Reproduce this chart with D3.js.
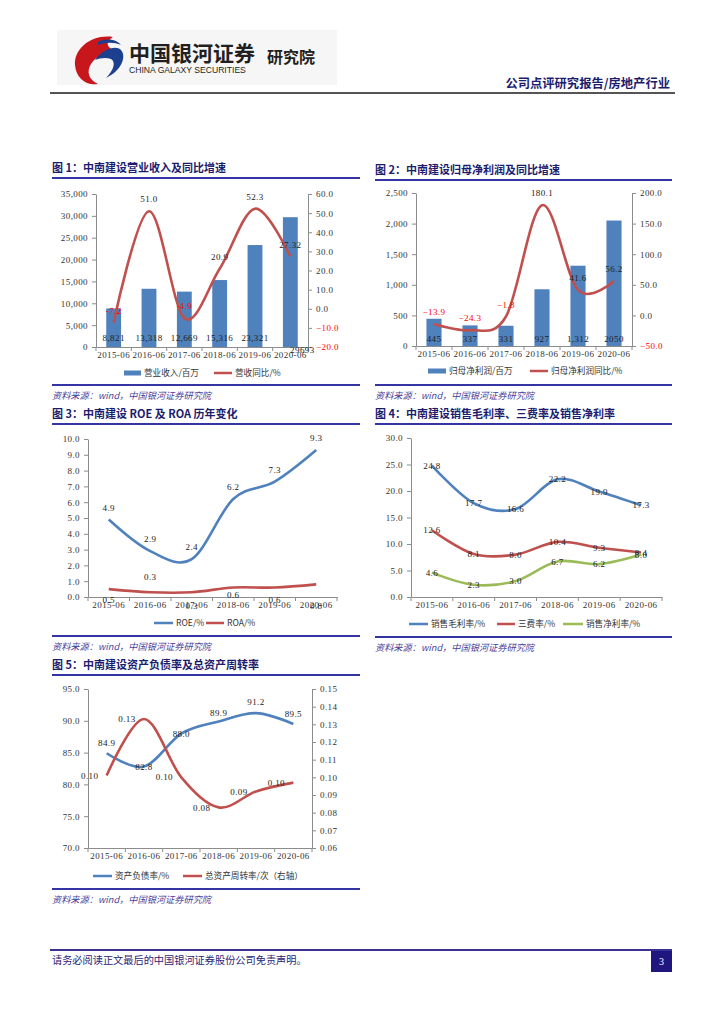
<!DOCTYPE html>
<html lang="zh">
<head>
<meta charset="UTF-8">
<title>中南建设 点评</title>
<script src="https://cdn.jsdelivr.net/npm/d3@7"></script>
<style>
    body{margin:0;background:#fff;}
    svg{display:block;}
</style>
</head>
<body>
<svg width="724" height="1024"></svg>
<script>
var years = ["2015-06","2016-06","2017-06","2018-06","2019-06","2020-06"];

// 图1
var revenue = [8821,13318,12669,15316,23321,29693];
var revenueLabels = ["8,821","13,318","12,669","15,316","23,321","29693"];
var revenueYoy = [-7.2,51.0,-4.9,20.9,52.3,27.32];
var revenueYoyLabels = ["-7.2","51.0","-4.9","20.9","52.3","27.32"];
// 图2
var profit = [445,337,331,927,1312,2050];
var profitLabels = ["445","337","331","927","1,312","2050"];
var profitYoy = [-13.9,-24.3,-1.8,180.1,41.6,56.2];
// 图3
var roe = [4.9,2.9,2.4,6.2,7.3,9.3];
var roa = [0.5,0.3,0.3,0.6,0.6,0.8];
// 图4
var grossMargin = [24.8,17.7,16.6,22.2,19.9,17.3];
var expenseRate = [12.6,8.1,8.0,10.4,9.3,8.4];
var netMargin = [4.6,2.3,3.0,6.7,6.2,8.0];
// 图5
var debtRatio = [84.9,82.8,88.0,89.9,91.2,89.5];
var turnover = [0.101,0.133,0.100,0.083,0.092,0.097];

var BLUE = "#4f81bd", RED = "#c0504d", GREEN = "#9bbb59";
var NAVY = "#1c1c6e", RULE = "#3434a4", SRC = "#4b3f99";
var CN = "'Noto Sans CJK SC', sans-serif", NUM = "'Liberation Serif', serif";

var svg = d3.select("svg");

// ---------- 页眉 ----------
svg.append("rect").attr("x",57).attr("y",30).attr("width",280).attr("height",55).attr("fill","#f6f6f6");
var logo = svg.append("g");
logo.append("path")
    .attr("d","M113,37 C92,34 74,48 75,65 C76,78 86,86 98,84 C89,80 86,72 91,64 C96,56 105,52 114,51 C108,47 104,43 113,37 Z")
    .attr("fill","#c8161d");
logo.append("path")
    .attr("d","M95,60 C103,49 116,45 121,50 C127,57 121,71 106,78 C114,70 116,62 111,59 C106,57 100,58 95,60 Z")
    .attr("fill","#1d3f8f");
logo.append("path")
    .attr("d","M98,42 C106,38 116,39 121,45 C114,42 106,42 98,45 Z")
    .attr("fill","#1d3f8f");
svg.append("text").attr("x",129).attr("y",61).text("中国银河证券")
    .attr("font-family",CN).attr("font-weight",700).attr("font-size",21).attr("fill","#231f20");
svg.append("text").attr("x",129).attr("y",73).text("CHINA GALAXY SECURITIES")
    .attr("font-family","'Liberation Sans', sans-serif").attr("font-size",8.6).attr("fill","#231f20");
svg.append("text").attr("x",267).attr("y",63).text("研究院")
    .attr("font-family",CN).attr("font-weight",700).attr("font-size",16).attr("fill","#231f20");
svg.append("text").attr("x",670).attr("y",88).attr("text-anchor","end").text("公司点评研究报告/房地产行业")
    .attr("font-family",CN).attr("font-weight",700).attr("font-size",12.3).attr("fill",NAVY);
svg.append("line").attr("x1",50).attr("x2",675).attr("y1",93).attr("y2",93)
    .attr("stroke","#555").attr("stroke-width",2);

// ---------- 页脚 ----------
svg.append("line").attr("x1",50).attr("x2",672).attr("y1",950).attr("y2",950)
    .attr("stroke","#3a3196").attr("stroke-width",2);
svg.append("text").attr("x",52).attr("y",964).text("请务必阅读正文最后的中国银河证券股份公司免责声明。")
    .attr("font-family",CN).attr("font-size",10.2).attr("fill","#2a2477");
svg.append("rect").attr("x",651).attr("y",951).attr("width",21).attr("height",21).attr("fill","#1f1680");
svg.append("text").attr("x",661.5).attr("y",965).attr("text-anchor","middle").text("3")
    .attr("font-family",NUM).attr("font-size",10).attr("fill","#fff");

// ---------- 通用 ----------
function frame(x1, x2, titleY, title, sourceY) {
    svg.append("text").attr("x",x1).attr("y",titleY+4).text(title)
        .attr("font-family",CN).attr("font-weight",700).attr("font-size",11).attr("fill",NAVY);
    svg.append("line").attr("x1",x1).attr("x2",x2).attr("y1",titleY+10).attr("y2",titleY+10)
        .attr("stroke",RULE).attr("stroke-width",1.8);
    svg.append("line").attr("x1",x1).attr("x2",x2).attr("y1",sourceY-10).attr("y2",sourceY-10)
        .attr("stroke",RULE).attr("stroke-width",1.8);
    svg.append("text").attr("x",x1).attr("y",sourceY+4).text("资料来源：wind，中国银河证券研究院")
        .attr("font-family",CN).attr("font-style","italic").attr("font-size",9.2).attr("fill",SRC);
}

function legend(y, items) {
    items.forEach(function (it) {
        if (it.bar) {
            svg.append("rect").attr("x",it.x).attr("y",y-2.5).attr("width",it.w).attr("height",5).attr("fill",it.color);
        } else {
            svg.append("line").attr("x1",it.x).attr("x2",it.x+it.w).attr("y1",y).attr("y2",y)
                .attr("stroke",it.color).attr("stroke-width",2.5);
        }
        svg.append("text").attr("x",it.x+it.w+3).attr("y",y).attr("dy","0.35em").text(it.text)
            .attr("font-family",CN).attr("font-size",8.6).attr("fill","#333");
    });
}

function styleAxis(g) {
    g.select(".domain").attr("stroke","#8c8c8c");
    g.selectAll(".tick line").attr("stroke","#8c8c8c");
    g.selectAll("text").attr("font-family",NUM).attr("font-size",9).attr("letter-spacing",0.4)
        .attr("fill",function (d) { return d < 0 ? "#ff0000" : "#333"; });
}

function plot(o) {
    var x = d3.scaleBand().domain(years).range([o.left, o.right]);
    var yL = d3.scaleLinear().domain(o.yL.domain).range([o.bottom, o.top]);
    var yR = o.yR ? d3.scaleLinear().domain(o.yR.domain).range([o.bottom, o.top]) : null;

    var gl = svg.append("g").attr("transform","translate("+o.left+",0)")
        .call(d3.axisLeft(yL).tickValues(o.yL.ticks).tickFormat(d3.format(o.yL.fmt)).tickSize(4).tickSizeOuter(0).tickPadding(4));
    styleAxis(gl);
    if (yR) {
        var gr = svg.append("g").attr("transform","translate("+o.right+",0)")
            .call(d3.axisRight(yR).tickValues(o.yR.ticks).tickFormat(d3.format(o.yR.fmt)).tickSize(4).tickSizeOuter(0).tickPadding(4));
        styleAxis(gr);
    }
    var gx = svg.append("g").attr("transform","translate(0,"+o.bottom+")")
        .call(d3.axisBottom(x).tickSize(0).tickPadding(5));
    styleAxis(gx);
    // 刻度线在类别边界
    d3.range(years.length+1).forEach(function (i) {
        var px = o.left + i*x.step();
        svg.append("line").attr("x1",px).attr("x2",px).attr("y1",o.bottom).attr("y2",o.bottom+4)
            .attr("stroke","#8c8c8c");
    });

    (o.bars || []).forEach(function (b) {
        var bw = x.bandwidth()*0.42;
        svg.append("g").selectAll("rect").data(b.values).enter().append("rect")
            .attr("x",function (d,i) { return x(years[i]) + (x.bandwidth()-bw)/2; })
            .attr("y",function (d) { return yL(d); })
            .attr("width",bw)
            .attr("height",function (d) { return o.bottom - yL(d); })
            .attr("fill",b.color);
        svg.append("g").selectAll("text").data(b.values).enter().append("text")
            .attr("x",function (d,i) { return x(years[i]) + x.bandwidth()/2 + (b.dx ? b.dx[i] : 0); })
            .attr("y",function (d,i) { return o.bottom - 9 + (b.dy ? b.dy[i] : 0); })
            .attr("dy","0.35em").attr("text-anchor","middle")
            .attr("font-family",NUM).attr("font-size",9).attr("letter-spacing",0.4).attr("fill","#222")
            .text(function (d,i) { return b.labels[i]; });
    });

    (o.lines || []).forEach(function (l) {
        var y = l.right ? yR : yL;
        var line = d3.line()
            .x(function (d,i) { return x(years[i]) + x.bandwidth()/2; })
            .y(function (d) { return y(d); })
            .curve(d3.curveCardinal.tension(0));
        svg.append("path").datum(l.values).attr("d",line)
            .attr("fill","none").attr("stroke",l.color).attr("stroke-width",2.6);
        svg.append("g").selectAll("text").data(l.values).enter().append("text")
            .attr("x",function (d,i) { return x(years[i]) + x.bandwidth()/2 + (l.dx || 0); })
            .attr("y",function (d,i) { return y(d) + (Array.isArray(l.dy) ? l.dy[i] : l.dy); })
            .attr("dy","0.35em").attr("text-anchor","middle")
            .attr("font-family",NUM).attr("font-size",9).attr("letter-spacing",0.4)
            .attr("fill",function (d) { return d < 0 ? "#ff0000" : "#222"; })
            .text(function (d,i) { return l.labels ? l.labels[i] : d3.format(l.fmt)(d); });
    });
}

// ---------- 图1 ----------
frame(52, 360, 168, "图 1：中南建设营业收入及同比增速", 395);
plot({
    left: 96, right: 308, top: 194, bottom: 347,
    yL: {domain: [0,35000], ticks: d3.range(0,35001,5000), fmt: ","},
    yR: {domain: [-20,60], ticks: d3.range(-20,61,10), fmt: ".1f"},
    bars: [{values: revenue, labels: revenueLabels, color: BLUE, dx: [0,0,0,0,0,12], dy: [0,0,0,0,0,12]}],
    lines: [{values: revenueYoy, labels: revenueYoyLabels, color: RED, right: true, dy: -12}]
});
legend(373, [
    {x: 124, w: 17, color: BLUE, bar: true, text: "营业收入/百万"},
    {x: 214, w: 18, color: RED, text: "营收同比/%"}
]);

// ---------- 图2 ----------
frame(375, 672, 170, "图 2：中南建设归母净利润及同比增速", 395);
plot({
    left: 416, right: 632, top: 193, bottom: 346,
    yL: {domain: [0,2500], ticks: d3.range(0,2501,500), fmt: ","},
    yR: {domain: [-50,200], ticks: d3.range(-50,201,50), fmt: ".1f"},
    bars: [{values: profit, labels: profitLabels, color: BLUE, dy: [2,2,2,2,2,2]}],
    lines: [{values: profitYoy, color: RED, right: true, dy: -12, fmt: ".1f"}]
});
legend(371, [
    {x: 428, w: 18, color: BLUE, bar: true, text: "归母净利润/百万"},
    {x: 530, w: 18, color: RED, text: "归母净利润同比/%"}
]);

// ---------- 图3 ----------
frame(52, 360, 414, "图 3：中南建设 ROE 及 ROA 历年变化", 646);
plot({
    left: 88, right: 337, top: 439, bottom: 597,
    yL: {domain: [0,10], ticks: d3.range(0,10.01,1), fmt: ".1f"},
    lines: [
        {values: roe, color: BLUE, dy: -12, fmt: ".1f"},
        {values: roa, color: RED, dy: [11,-15,14,7,12,21], fmt: ".1f"}
    ]
});
legend(623, [
    {x: 154, w: 19, color: BLUE, text: "ROE/%"},
    {x: 206, w: 18, color: RED, text: "ROA/%"}
]);

// ---------- 图4 ----------
frame(375, 672, 414, "图 4：中南建设销售毛利率、三费率及销售净利率", 647);
plot({
    left: 411, right: 662, top: 438, bottom: 597,
    yL: {domain: [0,30], ticks: d3.range(0,30.01,5), fmt: ".1f"},
    lines: [
        {values: grossMargin, color: BLUE, dy: 0, fmt: ".1f"},
        {values: expenseRate, color: RED, dy: 0, fmt: ".1f"},
        {values: netMargin, color: GREEN, dy: 0, fmt: ".1f"}
    ]
});
legend(624, [
    {x: 409, w: 19, color: BLUE, text: "销售毛利率/%"},
    {x: 497, w: 18, color: RED, text: "三费率/%"},
    {x: 563, w: 20, color: GREEN, text: "销售净利率/%"}
]);

// ---------- 图5 ----------
frame(52, 360, 665, "图 5：中南建设资产负债率及总资产周转率", 899);
plot({
    left: 88, right: 312, top: 689, bottom: 848,
    yL: {domain: [70,95], ticks: d3.range(70,95.01,5), fmt: ".1f"},
    yR: {domain: [0.06,0.15], ticks: d3.range(6,15.01,1).map(function (v) { return v/100; }), fmt: ".2f"},
    lines: [
        {values: debtRatio, color: BLUE, dy: [-10,0,0,-9,-11,-10], fmt: ".1f"},
        {values: turnover, color: RED, right: true, dx: -17, dy: 0, fmt: ".2f"}
    ]
});
legend(876, [
    {x: 93, w: 19, color: BLUE, text: "资产负债率/%"},
    {x: 183, w: 19, color: RED, text: "总资产周转率/次（右轴）"}
]);
</script>
</body>
</html>
